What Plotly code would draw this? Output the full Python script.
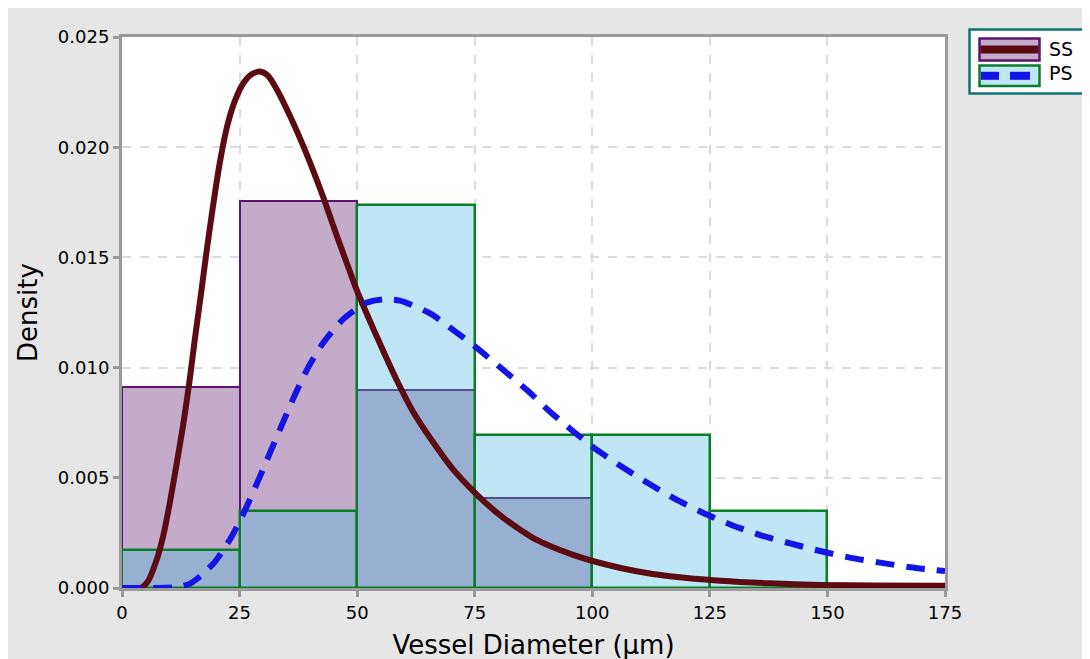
import plotly.graph_objects as go

# ---------------- data ----------------
bin_starts = [0, 25, 50, 75, 100, 125]
bin_width = 25
ss_density = [0.0091, 0.01755, 0.0090, 0.0041, 0.0, 0.0]
ps_density = [0.00174, 0.00348, 0.01739, 0.00696, 0.00696, 0.00348]

ss_curve_x = [0, 4.0, 5.5, 7.4, 8.8, 10.2, 11.6, 13.0, 14.3, 15.5, 16.9, 18.0, 19.4, 20.8,
              22.3, 24.0, 25.8, 27.5, 29.3, 31.0, 32.9, 35.7, 38.2, 40.3, 42.8, 45.6, 48.5,
              49.9, 54.2, 58.4, 61.9, 66.2, 70.4, 75.4, 81.1, 88.2, 95.3, 102.3, 109.4,
              116.5, 127.2, 137.8, 148.4, 160.0, 175.0]
ss_curve_y = [0.0, 0.0, 0.0003, 0.0013, 0.0024, 0.0039, 0.0056, 0.0074, 0.0093, 0.0113,
              0.0135, 0.0153, 0.0174, 0.0193, 0.0209, 0.0221, 0.0229, 0.02330, 0.02343,
              0.02325, 0.02263, 0.02143, 0.02023, 0.01913, 0.01773, 0.01603, 0.01433,
              0.01353, 0.0114, 0.00944, 0.0080, 0.0066, 0.00538, 0.00425, 0.00318,
              0.00218, 0.00155, 0.00110, 0.00076, 0.00053, 0.00033, 0.00021, 0.00014,
              0.00011, 0.0001]

ps_curve_x = [0, 8.0, 12.0, 14.5, 17.0, 19.8, 23.3, 26.2, 28.6, 31.5, 34.3, 36.8, 39.6, 42.8,
              47.1, 52.0, 56.0, 59.1, 65.5, 70.4, 75.1, 81.1, 86.1, 90.6, 95.6, 100.9,
              106.3, 111.9, 117.6, 123.3, 129.6, 135.7, 142.0, 148.4, 154.8, 161.2,
              167.6, 175.0]
ps_curve_y = [0.0, 0.0, 0.00005, 0.0002, 0.0006, 0.0012, 0.00233, 0.00355, 0.0047, 0.00615,
              0.00755, 0.00878, 0.01001, 0.01113, 0.01221, 0.01294, 0.01310, 0.01304,
              0.01246, 0.01171, 0.01095, 0.00989, 0.00898, 0.00808, 0.00717, 0.00628,
              0.0055, 0.00475, 0.00404, 0.00344, 0.00286, 0.0024, 0.00203, 0.00168,
              0.00138, 0.00115, 0.00094, 0.00077]

x_ticks = [0, 25, 50, 75, 100, 125, 150, 175]
y_ticks = [0.000, 0.005, 0.010, 0.015, 0.020, 0.025]
series_names = ["SS", "PS"]

# ---------------- styles ----------------
SS_FILL = "#c4abc9"
SS_EDGE = "#58166e"
SS_LINE = "#5c0b12"
PS_FILL = "rgba(69,183,224,0.35)"
PS_FILL_SOLID = "#bee6f4"
PS_EDGE = "#0a7d28"
PS_LINE = "#1414e6"
FONT = "DejaVu Sans"

# figure geometry (the page adds an 8px body margin)
OFF = 8
W, H = 1090, 659
L, R, T, B = 114, 153, 29, 79
PW, PH = W - L - R, H - T - B


def px(xs):  # screen pixel -> paper x
    return (xs - OFF - L) / PW


def py(ys):  # screen pixel -> paper y
    return (H - B - (ys - OFF)) / PH


fig = go.Figure()

# white backing under PS bars (hides gridlines like the original)
fig.add_trace(go.Bar(x=bin_starts, y=ps_density, width=bin_width, offset=0,
                     marker=dict(color="white", line=dict(width=0)),
                     showlegend=False, hoverinfo="skip"))
# SS histogram (opaque)
fig.add_trace(go.Bar(x=bin_starts, y=ss_density, width=bin_width, offset=0,
                     marker=dict(color=SS_FILL, line=dict(color=SS_EDGE, width=2)),
                     name=series_names[0], showlegend=False))
# PS histogram (translucent, on top)
fig.add_trace(go.Bar(x=bin_starts, y=ps_density, width=bin_width, offset=0,
                     marker=dict(color=PS_FILL, line=dict(color=PS_EDGE, width=2.5)),
                     name=series_names[1], showlegend=False))

# density curves
fig.add_trace(go.Scatter(x=ss_curve_x, y=ss_curve_y, mode="lines",
                         line=dict(color=SS_LINE, width=6, shape="spline", smoothing=0.7),
                         name=series_names[0], showlegend=False))
fig.add_trace(go.Scatter(x=ps_curve_x, y=ps_curve_y, mode="lines",
                         line=dict(color=PS_LINE, width=6, dash="19px,12px",
                                   shape="spline", smoothing=0.7),
                         name=series_names[1], showlegend=False))

axis_common = dict(showline=True, linecolor="#9a9a9a", linewidth=3, mirror=True,
                   ticks="outside", ticklen=6, tickwidth=3, tickcolor="#9a9a9a",
                   showgrid=True, gridcolor="#dcdcdc", gridwidth=2, griddash="dash",
                   zeroline=False, automargin=False,
                   tickfont=dict(family=FONT, size=18, color="black"))

fig.update_xaxes(range=[0, 175], tickvals=x_ticks, ticktext=[str(v) for v in x_ticks],
                 title=dict(text="Vessel Diameter (μm)", standoff=15,
                            font=dict(family=FONT, size=26, color="black")),
                 **axis_common)
fig.update_yaxes(range=[0, 0.025], tickvals=y_ticks,
                 ticktext=[f"{v:.3f}" for v in y_ticks],
                 title=dict(text="Density", standoff=13,
                            font=dict(family=FONT, size=26, color="black")),
                 **axis_common)

shapes = []
# legend box
shapes.append(dict(type="rect", xref="paper", yref="paper", x0=px(969.5), x1=px(1084), y0=py(93.5), y1=py(29.5),
                   fillcolor="white", line=dict(color="#0f7373", width=2.5)))
# SS legend symbol
shapes.append(dict(type="rect", xref="paper", yref="paper", x0=px(979.5), x1=px(1039.5), y0=py(60.5), y1=py(38.5),
                   fillcolor=SS_FILL, line=dict(color=SS_EDGE, width=2.5)))
shapes.append(dict(type="line", xref="paper", yref="paper", x0=px(980.5), x1=px(1038.5), y0=py(49.5), y1=py(49.5),
                   line=dict(color=SS_LINE, width=8)))
# PS legend symbol
shapes.append(dict(type="rect", xref="paper", yref="paper", x0=px(979.5), x1=px(1039.5), y0=py(86), y1=py(65.5),
                   fillcolor=PS_FILL_SOLID, line=dict(color=PS_EDGE, width=2.5)))
shapes.append(dict(type="line", xref="paper", yref="paper", x0=px(981), x1=px(999), y0=py(75.8), y1=py(75.8),
                   line=dict(color=PS_LINE, width=8)))
shapes.append(dict(type="line", xref="paper", yref="paper", x0=px(1010), x1=px(1030), y0=py(75.8), y1=py(75.8),
                   line=dict(color=PS_LINE, width=8)))

annotations = [
    dict(xref="paper", yref="paper", x=px(1047), y=py(49.5), text=series_names[0], showarrow=False,
         xanchor="left", yanchor="middle", font=dict(family=FONT, size=19, color="black")),
    dict(xref="paper", yref="paper", x=px(1047), y=py(73.5), text=series_names[1], showarrow=False,
         xanchor="left", yanchor="middle", font=dict(family=FONT, size=19, color="black")),
]

fig.update_layout(width=W, height=H, margin=dict(l=L, r=R, t=T, b=B, pad=0),
                  paper_bgcolor="#e6e6e6", plot_bgcolor="white",
                  barmode="overlay", bargap=0, showlegend=False,
                  shapes=shapes, annotations=annotations,
                  font=dict(family=FONT, color="black"))

fig.write_html("out.html")
